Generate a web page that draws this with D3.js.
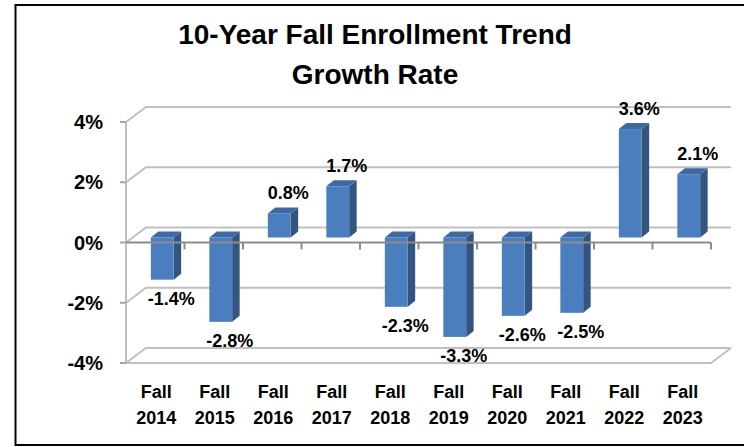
<!DOCTYPE html>
<html>
<head>
<meta charset="utf-8">
<script src="https://cdn.jsdelivr.net/npm/d3@7"></script>
<style>
  body { margin: 0; background: #fff; }
  text { font-family: "Liberation Sans", Arial, sans-serif; font-weight: bold; fill: #000; }
</style>
</head>
<body>
<div id="chart"></div>
<script>
// chart data
const categories = ["2014", "2015", "2016", "2017", "2018", "2019", "2020", "2021", "2022", "2023"];
const growth = [-1.4, -2.8, 0.8, 1.7, -2.3, -3.3, -2.6, -2.5, 3.6, 2.1];
const yTicks = [-4, -2, 0, 2, 4];
const titleLines = ["10-Year Fall Enrollment Trend", "Growth Rate"];

const width = 744;
const height = 447;
const plot = { left: 126, right: 711, top: 122, bottom: 363 };
const wall = { dx: 20, dy: -15 };     // back wall offset
const barPos = { dx: 7, dy: -5 };     // bars front plane offset
const barDepth = { dx: 7.5, dy: -6 }; // bar thickness

const svg = d3.select("#chart")
    .append("svg")
    .attr("width", width)
    .attr("height", height);

// frame
svg.append("rect")
    .attr("x", 15.5)
    .attr("y", 5)
    .attr("width", 800)
    .attr("height", 440)
    .attr("fill", "none")
    .attr("stroke", "#000")
    .attr("stroke-width", 2);

svg.selectAll(".title")
    .data(titleLines)
    .enter().append("text")
    .attr("class", "title")
    .attr("x", 375)
    .attr("y", (d, i) => 44 + i * 40)
    .attr("text-anchor", "middle")
    .style("font-size", "28px")
    .text(d => d);

const x = d3.scaleBand()
    .domain(categories)
    .range([plot.left, plot.right]);

const y = d3.scaleLinear()
    .domain([-4, 4])
    .range([plot.bottom, plot.top]);

// gridlines: front-left diagonal then along back wall
svg.selectAll(".grid")
    .data(yTicks)
    .enter().append("path")
    .attr("class", "grid")
    .attr("fill", "none")
    .attr("stroke", "#c0c0c0")
    .attr("stroke-width", 2)
    .attr("d", d => {
        const yy = y(d);
        return `M${plot.left},${yy}L${plot.left + wall.dx},${yy + wall.dy}L${plot.right + wall.dx},${yy + wall.dy}`;
    });

// floor front edge and right corner
svg.append("path")
    .attr("fill", "none")
    .attr("stroke", "#c0c0c0")
    .attr("stroke-width", 2)
    .attr("d", `M${plot.left},${y(-4)}L${plot.right},${y(-4)}L${plot.right + wall.dx},${y(-4) + wall.dy}`);

// y axis
svg.append("line")
    .attr("x1", plot.left).attr("x2", plot.left)
    .attr("y1", y(4)).attr("y2", y(-4))
    .attr("stroke", "#bfbfbf")
    .attr("stroke-width", 2);

svg.selectAll(".ytick")
    .data(yTicks)
    .enter().append("line")
    .attr("class", "ytick")
    .attr("x1", plot.left - 6).attr("x2", plot.left)
    .attr("y1", d => y(d)).attr("y2", d => y(d))
    .attr("stroke", "#a6a6a6")
    .attr("stroke-width", 2);

svg.selectAll(".ylabel")
    .data(yTicks)
    .enter().append("text")
    .attr("class", "ylabel")
    .attr("x", 103)
    .attr("y", d => y(d))
    .attr("dy", "0.36em")
    .attr("text-anchor", "end")
    .style("font-size", "20px")
    .text(d => d + "%");

// bars
const barW = x.bandwidth() * 0.39;
const bars = svg.selectAll(".bar")
    .data(growth.map((v, i) => ({ cat: categories[i], value: v })))
    .enter().append("g")
    .attr("class", "bar");

const fx0 = d => x(d.cat) + (x.bandwidth() - barW) / 2 + barPos.dx;
const fyTop = d => y(Math.max(0, d.value)) + barPos.dy;
const fyBot = d => y(Math.min(0, d.value)) + barPos.dy;

bars.append("path")
    .attr("fill", "#34557f")
    .attr("d", d => {
        const x1 = fx0(d) + barW, t = fyTop(d), b = fyBot(d);
        return `M${x1},${t}L${x1 + barDepth.dx},${t + barDepth.dy}L${x1 + barDepth.dx},${b + barDepth.dy}L${x1},${b}Z`;
    });

bars.append("path")
    .attr("fill", "#3e69a3")
    .attr("d", d => {
        const x0 = fx0(d), x1 = x0 + barW, t = fyTop(d);
        return `M${x0},${t}L${x0 + barDepth.dx},${t + barDepth.dy}L${x1 + barDepth.dx},${t + barDepth.dy}L${x1},${t}Z`;
    });

bars.append("rect")
    .attr("fill", "#4a7ebe")
    .attr("x", fx0)
    .attr("y", fyTop)
    .attr("width", barW)
    .attr("height", d => fyBot(d) - fyTop(d));

// 0% axis with category ticks
svg.append("line")
    .attr("x1", plot.left).attr("x2", plot.right)
    .attr("y1", y(0)).attr("y2", y(0))
    .attr("stroke", "#8c8c8c")
    .attr("stroke-width", 2);

svg.selectAll(".xtick")
    .data(categories)
    .enter().append("line")
    .attr("class", "xtick")
    .attr("x1", d => x(d) + x.bandwidth()).attr("x2", d => x(d) + x.bandwidth())
    .attr("y1", y(0)).attr("y2", y(0) + 7)
    .attr("stroke", "#8c8c8c")
    .attr("stroke-width", 2);

// data labels
bars.append("text")
    .attr("x", d => fx0(d) + barW / 2 + 9)
    .attr("y", d => d.value >= 0 ? fyTop(d) - 14 : fyBot(d) + 25)
    .attr("text-anchor", "middle")
    .style("font-size", "18px")
    .text(d => d.value.toFixed(1) + "%");

// category labels
const xl = svg.selectAll(".xlabel")
    .data(categories)
    .enter().append("text")
    .attr("class", "xlabel")
    .attr("text-anchor", "middle")
    .style("font-size", "18px");

xl.append("tspan")
    .attr("x", d => x(d) + x.bandwidth() / 2 + 1)
    .attr("y", 398)
    .text("Fall");

xl.append("tspan")
    .attr("x", d => x(d) + x.bandwidth() / 2 + 1)
    .attr("y", 424)
    .text(d => d);
</script>
</body>
</html>
